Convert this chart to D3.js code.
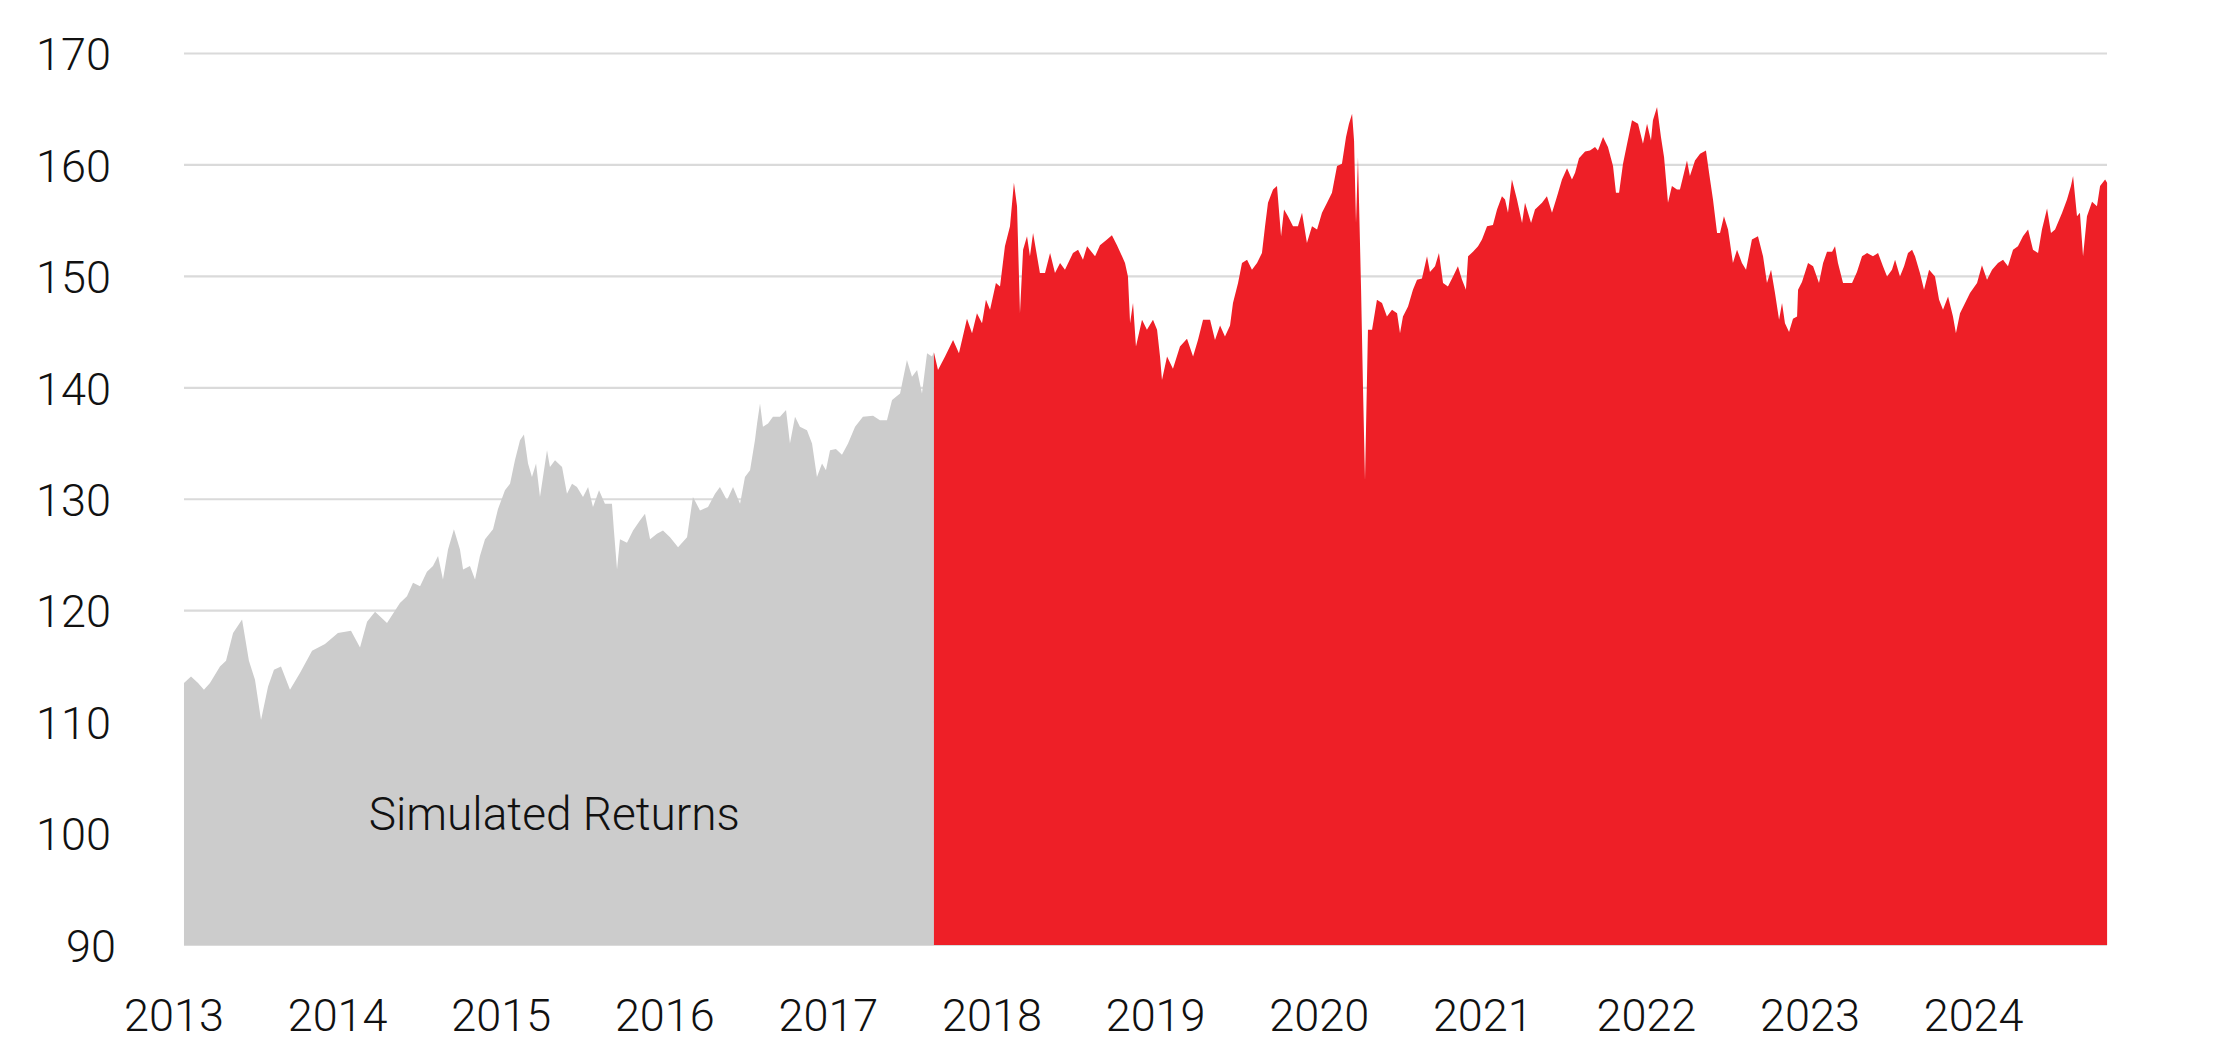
<!DOCTYPE html>
<html>
<head>
<meta charset="utf-8">
<script src="https://cdn.jsdelivr.net/npm/d3@7"></script>
<style>
  html, body { margin: 0; padding: 0; background: #ffffff; }
  svg { display: block; }
  text { font-family: Roboto, "Liberation Sans", Arial, sans-serif; font-weight: 300; fill: #111; }
</style>
</head>
<body>
<svg id="chart" width="2236" height="1044"></svg>
<script>
// ---- Data ----
const yTickValues = [90, 100, 110, 120, 130, 140, 150, 160, 170];
const yearTickLabels = ["2013","2014","2015","2016","2017","2018","2019","2020","2021","2022","2023","2024"];
const annotationText = "Simulated Returns";

// Simulated (back-tested) period: decimal year and index level
const simulatedYears = [
  2013.061,2013.104,2013.147,2013.183,2013.220,2013.281,2013.318,2013.361,2013.416,2013.458,
  2013.495,2013.532,2013.575,2013.611,2013.654,2013.709,2013.770,2013.844,2013.923,2014.002,
  2014.082,2014.137,2014.180,2014.229,2014.302,2014.381,2014.424,2014.461,2014.504,2014.546,
  2014.583,2014.614,2014.644,2014.675,2014.711,2014.748,2014.767,2014.809,2014.840,2014.870,
  2014.901,2014.950,2014.980,2015.023,2015.054,2015.084,2015.115,2015.139,2015.164,2015.188,
  2015.213,2015.237,2015.280,2015.298,2015.329,2015.372,2015.402,2015.433,2015.463,2015.500,
  2015.531,2015.561,2015.598,2015.634,2015.677,2015.689,2015.708,2015.726,2015.769,2015.806,
  2015.848,2015.879,2015.910,2015.952,2015.989,2016.032,2016.081,2016.136,2016.172,2016.215,
  2016.264,2016.307,2016.337,2016.380,2016.417,2016.460,2016.490,2016.521,2016.551,2016.564,
  2016.582,2016.600,2016.631,2016.661,2016.704,2016.741,2016.765,2016.796,2016.826,2016.869,
  2016.900,2016.930,2016.961,2016.985,2017.010,2017.046,2017.083,2017.120,2017.163,2017.211,
  2017.273,2017.315,2017.358,2017.389,2017.438,2017.480,2017.511,2017.542,2017.572,2017.603,
  2017.633,2017.645
];
const simulatedValues = [
  113.5,114.1,113.5,112.9,113.5,115.0,115.5,118.0,119.2,115.5,
  113.8,110.2,113.2,114.7,115.0,112.9,114.4,116.4,117.0,118.0,
  118.2,116.7,119.0,119.9,118.9,120.7,121.3,122.5,122.2,123.5,
  124.0,124.9,122.8,125.5,127.3,125.5,123.7,124.0,122.8,124.9,
  126.4,127.3,129.1,130.8,131.4,133.5,135.3,135.8,133.2,132.0,
  133.2,130.2,134.4,132.9,133.5,132.9,130.5,131.4,131.1,130.2,
  131.1,129.3,130.8,129.6,129.6,127.2,123.7,126.4,126.1,127.2,
  128.1,128.7,126.4,126.9,127.2,126.6,125.7,126.6,130.2,129.0,
  129.3,130.5,131.1,129.9,131.1,129.6,132.0,132.6,135.3,136.8,
  138.6,136.5,136.8,137.4,137.4,138.0,135.0,137.4,136.5,136.2,
  135.0,132.0,133.2,132.6,134.4,134.5,134.0,135.0,136.5,137.4,
  137.5,137.1,137.1,138.9,139.5,142.5,141.0,141.6,139.5,143.1,
  142.8,143.2
];

// Live track record period: decimal year and index level
const liveYears = [
  2017.645,2017.670,2017.713,2017.762,2017.798,2017.847,2017.878,2017.908,2017.939,2017.963,
  2017.988,2018.024,2018.049,2018.079,2018.110,2018.134,2018.153,2018.171,2018.190,2018.214,
  2018.232,2018.251,2018.293,2018.324,2018.355,2018.385,2018.416,2018.446,2018.495,2018.526,
  2018.556,2018.581,2018.630,2018.660,2018.703,2018.733,2018.764,2018.795,2018.813,2018.831,
  2018.844,2018.862,2018.880,2018.917,2018.947,2018.984,2019.009,2019.027,2019.039,2019.070,
  2019.106,2019.149,2019.192,2019.229,2019.259,2019.290,2019.333,2019.363,2019.394,2019.424,
  2019.455,2019.473,2019.504,2019.528,2019.559,2019.589,2019.620,2019.650,2019.669,2019.687,
  2019.718,2019.742,2019.767,2019.785,2019.809,2019.840,2019.870,2019.895,2019.925,2019.956,
  2019.987,2020.017,2020.048,2020.078,2020.109,2020.139,2020.164,2020.182,2020.201,2020.213,
  2020.225,2020.237,2020.256,2020.268,2020.280,2020.298,2020.323,2020.353,2020.384,2020.414,
  2020.445,2020.476,2020.494,2020.512,2020.543,2020.573,2020.598,2020.628,2020.659,2020.677,
  2020.708,2020.732,2020.757,2020.787,2020.818,2020.848,2020.873,2020.897,2020.910,2020.940,
  2020.971,2020.995,2021.026,2021.062,2021.087,2021.117,2021.136,2021.154,2021.178,2021.209,
  2021.240,2021.258,2021.295,2021.319,2021.362,2021.392,2021.423,2021.454,2021.484,2021.515,
  2021.545,2021.564,2021.588,2021.625,2021.655,2021.686,2021.704,2021.735,2021.765,2021.796,
  2021.814,2021.833,2021.857,2021.882,2021.912,2021.949,2021.979,2022.004,2022.028,2022.040,
  2022.065,2022.089,2022.108,2022.132,2022.156,2022.187,2022.205,2022.230,2022.248,2022.266,
  2022.297,2022.328,2022.364,2022.383,2022.407,2022.432,2022.450,2022.474,2022.499,2022.529,
  2022.554,2022.584,2022.609,2022.645,2022.682,2022.713,2022.737,2022.762,2022.786,2022.811,
  2022.829,2022.847,2022.872,2022.896,2022.921,2022.927,2022.951,2022.988,2023.019,2023.055,
  2023.080,2023.104,2023.135,2023.153,2023.171,2023.202,2023.232,2023.257,2023.287,2023.318,
  2023.349,2023.385,2023.416,2023.446,2023.471,2023.501,2023.520,2023.550,2023.575,2023.599,
  2023.624,2023.642,2023.672,2023.697,2023.728,2023.764,2023.789,2023.813,2023.844,2023.874,
  2023.892,2023.917,2023.948,2023.978,2024.021,2024.051,2024.082,2024.113,2024.149,2024.180,
  2024.210,2024.241,2024.271,2024.302,2024.333,2024.363,2024.394,2024.418,2024.449,2024.473,
  2024.498,2024.541,2024.571,2024.595,2024.608,2024.632,2024.650,2024.669,2024.693,2024.724,
  2024.754,2024.773,2024.804,2024.816
];
const liveValues = [
  143.2,141.6,142.8,144.3,143.1,146.2,144.9,146.7,145.8,147.9,
  147.0,149.4,149.1,152.7,154.5,158.4,156.3,146.7,152.4,153.6,
  151.8,153.9,150.3,150.3,152.1,150.3,151.2,150.6,152.1,152.4,
  151.5,152.7,151.8,152.8,153.3,153.7,152.8,151.8,151.2,150.0,
  145.8,147.6,143.7,146.1,145.2,146.1,145.2,142.8,140.7,142.8,
  141.7,143.7,144.4,142.8,144.3,146.1,146.1,144.3,145.6,144.6,
  145.6,147.6,149.4,151.2,151.5,150.6,151.2,152.1,154.5,156.6,
  157.8,158.1,153.6,156.0,155.4,154.5,154.5,155.7,153.0,154.5,
  154.2,155.7,156.6,157.5,159.9,160.1,162.5,163.7,164.6,162.2,
  154.8,160.7,148.8,139.8,131.7,145.2,145.2,147.9,147.6,146.4,
  147.0,146.7,144.9,146.4,147.3,148.8,149.7,149.8,151.8,150.4,
  150.9,152.1,149.4,149.1,150.0,150.9,149.7,148.8,151.8,152.2,
  152.7,153.3,154.5,154.6,156.0,157.2,156.9,155.7,158.7,156.9,
  154.8,156.6,154.8,156.0,156.6,157.2,155.7,157.2,158.7,159.7,
  158.7,159.3,160.6,161.2,161.3,161.6,161.3,162.5,161.6,159.9,
  157.5,157.5,160.1,161.9,164.0,163.7,161.9,163.7,162.2,164.0,
  165.2,162.5,160.7,156.6,158.1,157.8,157.8,159.3,160.4,159.0,
  160.4,161.0,161.3,159.3,156.9,153.9,153.9,155.4,154.2,151.2,
  152.4,151.2,150.6,153.3,153.6,151.8,149.4,150.6,148.5,146.1,
  147.6,145.8,145.0,146.2,146.4,148.8,149.5,151.2,150.9,149.4,
  151.2,152.2,152.2,152.7,151.2,149.4,149.4,149.4,150.4,151.8,
  152.1,151.8,152.1,150.9,150.0,150.6,151.5,150.0,150.9,152.1,
  152.4,151.8,150.3,148.8,150.6,150.0,147.9,147.0,148.2,146.4,
  144.9,146.7,147.6,148.5,149.4,151.0,149.7,150.6,151.2,151.5,
  150.9,152.4,152.7,153.6,154.2,152.4,152.1,154.2,156.1,153.9,
  154.2,155.7,156.9,158.1,159.0,155.4,155.7,151.8,155.4,156.7,
  156.3,158.1,158.7,158.4
];

// ---- Layout ----
const plotLeft = 184, plotRight = 2107;
const yTop = 53.5, yBottom = 945;
const colors = { simulated: "#cccccc", live: "#ee1f27", grid: "#dadada", text: "#111111" };

const svg = d3.select("#chart");

const x = d3.scaleLinear().domain([2013, 2025]).range([174, 174 + 12 * 163.6]);
const y = d3.scaleLinear().domain([90, 170]).range([yBottom, yTop]);

// Gridlines
svg.append("g").selectAll("line").data(yTickValues).join("line")
  .attr("x1", plotLeft).attr("x2", plotRight)
  .attr("y1", d => y(d)).attr("y2", d => y(d))
  .attr("stroke", colors.grid).attr("stroke-width", 2.2);

const sim = simulatedYears.map((t, i) => ({ t, v: simulatedValues[i] }));
const live = liveYears.map((t, i) => ({ t, v: liveValues[i] }));

const area = d3.area()
  .x(d => x(d.t))
  .y0(y(90))
  .y1(d => y(d.v));

svg.append("path").datum(sim).attr("d", area).attr("fill", colors.simulated);
svg.append("path").datum(live).attr("d", area).attr("fill", colors.live);

// Y axis labels
const yAxis = d3.axisLeft(y).tickValues(yTickValues).tickSize(0).tickPadding(0);
const gy = svg.append("g").attr("transform", "translate(111,0)").call(yAxis);
gy.select(".domain").remove();
gy.selectAll("text")
  .attr("font-size", 45).attr("font-family", "Roboto, 'Liberation Sans', Arial, sans-serif")
  .attr("font-weight", 300).attr("fill", colors.text).attr("dy", "0.36em")
  .attr("dx", d => d < 100 ? 5 : 0);

// X axis labels
const gx = svg.append("g");
gx.selectAll("text").data(yearTickLabels).join("text")
  .attr("x", d => x(+d))
  .attr("y", 1031)
  .attr("text-anchor", "middle")
  .attr("font-size", 45)
  .attr("fill", colors.text)
  .text(d => d);

// Annotation
svg.append("text")
  .attr("x", x(2014.19))
  .attr("y", 830)
  .attr("text-anchor", "start")
  .attr("font-size", 46)
  .attr("fill", colors.text)
  .text(annotationText);
</script>
</body>
</html>
